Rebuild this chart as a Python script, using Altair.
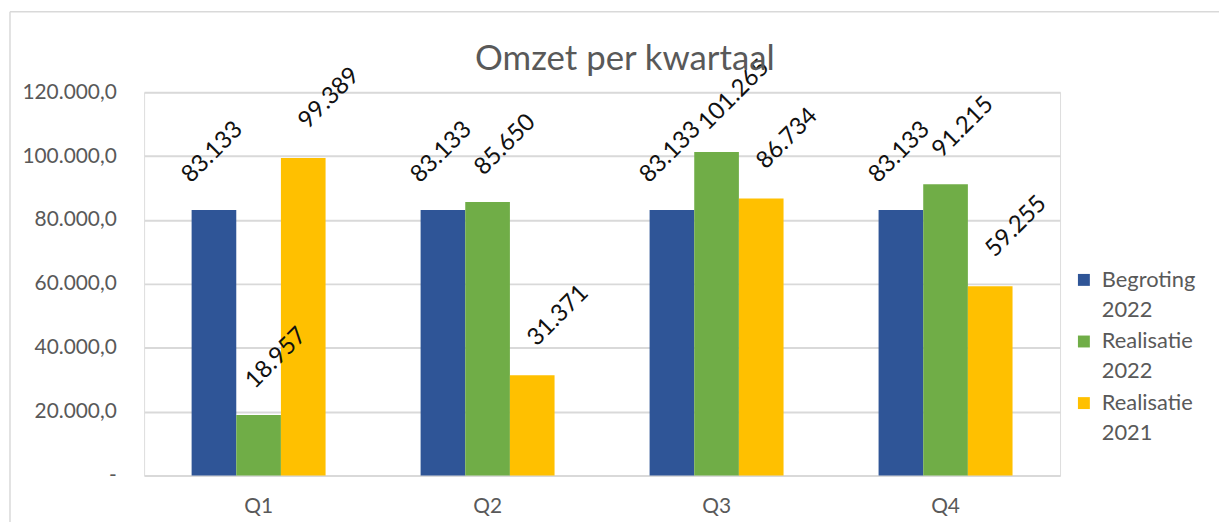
import altair as alt
import pandas as pd

# ---- data ----
kwartalen = ["Q1", "Q2", "Q3", "Q4"]
series = ["Begroting 2022", "Realisatie 2022", "Realisatie 2021"]
begroting_2022 = [83133, 83133, 83133, 83133]
realisatie_2022 = [18957, 85650, 101265, 91215]
realisatie_2021 = [99389, 31371, 86734, 59255]
y_ticks = [0, 20000, 40000, 60000, 80000, 100000, 120000]
colors = ["#2F5597", "#70AD47", "#FFC000"]

rows = []
for s, vals in zip(series, [begroting_2022, realisatie_2022, realisatie_2021]):
    for q, v in zip(kwartalen, vals):
        rows.append({"Kwartaal": q, "Serie": s, "Waarde": v})
df = pd.DataFrame(rows)

FONT = "Lato"
GRAY = "#595959"

x_enc = alt.X(
    "Kwartaal:N", sort=kwartalen,
    scale=alt.Scale(paddingInner=0.415, paddingOuter=0.2075),
    axis=alt.Axis(title=None, labelAngle=0, domain=False, ticks=False,
                  labelFontSize=21, labelColor=GRAY, labelPadding=20, labelFont=FONT),
)
xo_enc = alt.XOffset("Serie:N", sort=series, scale=alt.Scale(paddingInner=0, paddingOuter=0))
y_enc = alt.Y(
    "Waarde:Q",
    scale=alt.Scale(domain=[0, 120000], nice=False),
    axis=alt.Axis(
        title=None, values=y_ticks, domain=False, ticks=False,
        labelFontSize=21, labelColor=GRAY, labelPadding=28, labelFont=FONT,
        gridColor="#d9d9d9", gridWidth=2,
        labelExpr="datum.value == 0 ? '-\u00a0\u00a0\u00a0' : replace(replace(replace(format(datum.value, ',.1f'), ',', '_'), '.', ','), '_', '.')",
    ),
)
color_enc = alt.Color(
    "Serie:N", sort=series,
    scale=alt.Scale(domain=series, range=colors),
    legend=alt.Legend(
        orient="none", legendX=935, legendY=178, title=None,
        symbolType="square", symbolSize=144, symbolStrokeWidth=0,
        labelFontSize=22, labelFont=FONT, labelColor=GRAY, labelOffset=7,
        labelExpr="split(datum.label, ' ')", rowPadding=10, padding=0,
    ),
)

base = alt.Chart(df)

bars = base.mark_bar().encode(x=x_enc, xOffset=xo_enc, y=y_enc, color=color_enc)

offsets = {
    "Begroting 2022": (40, -42),
    "Realisatie 2022": (53, -28),
    "Realisatie 2021": (61, -24),
}
text_layers = []
for s in series:
    dx, dy = offsets[s]
    t = base.transform_filter(alt.datum.Serie == s).transform_calculate(
        label="replace(format(datum.Waarde, ',.0f'), ',', '.')"
    ).mark_text(
        angle=315, align="center", baseline="middle", dx=dx, dy=dy,
        font=FONT, fontSize=24, color="#111111",
    ).encode(x=x_enc, xOffset=xo_enc, y=y_enc, text="label:N")
    text_layers.append(t)

frame_df = pd.DataFrame({"f": [0]})
frame_v = alt.Chart(frame_df).mark_rule(color="#d9d9d9", strokeWidth=1.5).encode(
    x=alt.value(-135), y=alt.value(-81), y2=alt.value(440)
)
frame_h = alt.Chart(frame_df).mark_rule(color="#d9d9d9", strokeWidth=1.5).encode(
    x=alt.value(-135), x2=alt.value(1090), y=alt.value(-81)
)

chart = alt.layer(frame_v, frame_h, bars, *text_layers).properties(
    width=922, height=386,
    title=alt.TitleParams(
        "Omzet per kwartaal", font=FONT, fontSize=35, color=GRAY, fontWeight="normal",
        dx=23, dy=113, offset=19, baseline="alphabetic", frame="group", anchor="middle",
    ),
    autosize=alt.AutoSizeParams(type="none"),
    padding={"left": 137, "top": 83, "right": 160, "bottom": 45},
).configure_view(stroke=None).configure(style={"guide-label": {"lineHeight": 30}})

chart.save("out.html", embed_options={"renderer": "svg", "actions": False})
